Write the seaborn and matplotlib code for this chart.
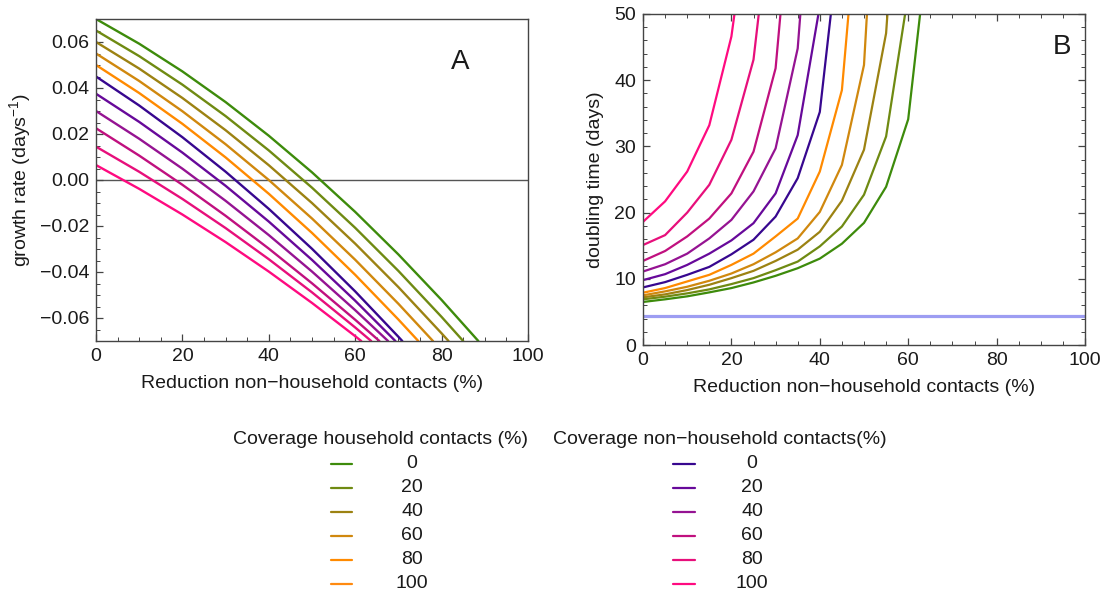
import matplotlib
matplotlib.use("Agg")
import matplotlib.pyplot as plt
import seaborn as sns
import pandas as pd
from matplotlib.ticker import MultipleLocator, FuncFormatter
from matplotlib.lines import Line2D

# ---------------- data ----------------
curve_names = ["HH0", "HH20", "HH40", "HH60", "HH80", "NH0", "NH20", "NH40", "NH60", "NH80", "NH100"]
curve_colors = ["#3d8b0b", "#6f8a12", "#9c8212", "#d0880e", "#ff8a00",
                "#37078f", "#67099a", "#951392", "#c0107f", "#e70f7b", "#ff0a80"]

# Panel A: growth rate vs reduction of non-household contacts
red_grid_A = [0, 10, 20, 30, 40, 50, 60, 70, 80]
growth_HH0 = [0.0700, 0.05925, 0.04721, 0.03388, 0.01925, 0.00334, -0.01387, -0.03237, -0.05216]
growth_HH20 = [0.0650, 0.05386, 0.04146, 0.02779, 0.01286, -0.00334, -0.02080, -0.03953, -0.05953]
growth_HH40 = [0.0600, 0.04844, 0.03566, 0.02165, 0.00643, -0.01002, -0.02768, -0.04657, -0.06667]
growth_HH60 = [0.0550, 0.04305, 0.02990, 0.01555, 0.0000, -0.01674, -0.03468, -0.05382]
growth_HH80 = [0.0500, 0.03781, 0.02442, 0.00982, -0.00599, -0.02301, -0.04123, -0.06066]
growth_NH0 = [0.0450, 0.03239, 0.01860, 0.00361, -0.01255, -0.02991, -0.04844, -0.06817]
growth_NH20 = [0.0375, 0.02526, 0.01191, -0.00253, -0.01808, -0.03474, -0.05249]
growth_NH40 = [0.0300, 0.01793, 0.00492, -0.00905, -0.02395, -0.03981, -0.05660]
growth_NH60 = [0.0225, 0.01061, -0.00208, -0.01556, -0.02984, -0.04491, -0.06077]
growth_NH80 = [0.0145, 0.00357, -0.00823, -0.02090, -0.03444, -0.04885, -0.06413]
growth_NH100 = [0.0065, -0.00385, -0.01501, -0.02700, -0.03982, -0.05345, -0.06791]
growth_end_x = [88.5, 85.0, 81.6, 78.0, 74.6, 70.9, 69.3, 67.6, 65.6, 63.7, 61.4]
growth_end_y = -0.070

# Panel B: doubling time vs reduction of non-household contacts (5 % steps)
red_grid_B = [0, 5, 10, 15, 20, 25, 30, 35, 40, 45, 50, 55, 60, 65]
doubling_HH0 = [6.5, 6.9, 7.35, 7.95, 8.6, 9.45, 10.45, 11.6, 13.05, 15.3, 18.45, 23.9, 34.1, 63.6]
doubling_HH20 = [6.9, 7.3, 7.8, 8.4, 9.2, 10.1, 11.3, 12.6, 14.9, 17.9, 22.7, 31.5, 53.0]
doubling_HH40 = [7.2, 7.65, 8.3, 9.1, 10.1, 11.2, 12.7, 14.4, 17.1, 21.8, 29.5, 47.1, 95.0]
doubling_HH60 = [7.5, 8.1, 8.8, 9.7, 10.8, 12.2, 14.0, 16.1, 20.1, 27.2, 42.3, 100.0]
doubling_HH80 = [7.9, 8.6, 9.6, 10.6, 12.1, 13.8, 16.4, 19.1, 26.2, 38.5, 77.0]
doubling_NH0 = [8.7, 9.5, 10.6, 11.8, 13.7, 15.9, 19.4, 25.2, 35.2, 64.8]
doubling_NH20 = [9.8, 10.7, 12.1, 13.8, 15.8, 18.4, 22.9, 31.7, 51.2]
doubling_NH40 = [11.1, 12.2, 13.8, 16.1, 18.9, 23.2, 29.7, 44.8, 88.0]
doubling_NH60 = [12.7, 14.2, 16.4, 19.1, 22.9, 29.2, 41.8, 79.0]
doubling_NH80 = [15.1, 16.6, 20.0, 24.2, 31.0, 43.1, 72.0]
doubling_NH100 = [18.6, 21.7, 26.2, 33.2, 46.6, 71.0]
reference_doubling = 4.4

# Legend
legend_hh_title = "Coverage household contacts (%)"
legend_nh_title = "Coverage non\u2212household contacts(%)"
coverage_levels = ["0", "20", "40", "60", "80", "100"]
legend_hh_colors = ["#3d8b0b", "#6f8a12", "#9c8212", "#d0880e", "#ff8a00", "#ff8a10"]
legend_nh_colors = ["#37078f", "#67099a", "#951392", "#c0107f", "#e70f7b", "#ff0a80"]

# ---------------- tables ----------------
growth_lists = [growth_HH0, growth_HH20, growth_HH40, growth_HH60, growth_HH80,
                growth_NH0, growth_NH20, growth_NH40, growth_NH60, growth_NH80, growth_NH100]
doubling_lists = [doubling_HH0, doubling_HH20, doubling_HH40, doubling_HH60, doubling_HH80,
                  doubling_NH0, doubling_NH20, doubling_NH40, doubling_NH60, doubling_NH80, doubling_NH100]

rows_A = []
for name, vals, ex in zip(curve_names, growth_lists, growth_end_x):
    xs = red_grid_A[:len(vals)] + [ex]
    ys = vals + [growth_end_y]
    for i, (x, y) in enumerate(zip(xs, ys)):
        rows_A.append({"curve": name, "reduction": x, "growth": y, "order": i})
dfA = pd.DataFrame(rows_A)

rows_B = []
for name, vals in zip(curve_names, doubling_lists):
    for i, (x, y) in enumerate(zip(red_grid_B, vals)):
        rows_B.append({"curve": name, "reduction": x, "doubling": y, "order": i})
dfB = pd.DataFrame(rows_B)

palette = dict(zip(curve_names, curve_colors))

# ---------------- style ----------------
sns.set_theme(style="white")
plt.rcParams["font.family"] = ["Liberation Sans", "DejaVu Sans"]
plt.rcParams["mathtext.fontset"] = "custom"
plt.rcParams["mathtext.rm"] = "Liberation Sans"
plt.rcParams["mathtext.it"] = "Liberation Sans:italic"
plt.rcParams["axes.unicode_minus"] = True

FS = 14
frame_col = "#444444"
text_col = "#1a1a1a"

fig = plt.figure(figsize=(11.03, 5.94), dpi=100)
W, H = 1103.0, 594.0
axA = fig.add_axes([96 / W, 1 - 341 / H, 432 / W, 322 / H])
axB = fig.add_axes([643 / W, 1 - 345 / H, 442 / W, 331 / H])

sns.lineplot(data=dfA, x="reduction", y="growth", hue="curve", hue_order=curve_names,
             palette=palette, units="curve", estimator=None, sort=False,
             legend=False, ax=axA, linewidth=1.7, solid_joinstyle="round")
axA.axhline(0, color="#555555", linewidth=1.0, zorder=0)

sns.lineplot(data=dfB, x="reduction", y="doubling", hue="curve", hue_order=curve_names,
             palette=palette, units="curve", estimator=None, sort=False,
             legend=False, ax=axB, linewidth=1.6)
axB.axhline(reference_doubling, color="#9d9df2", linewidth=2.3, zorder=1)

def minus_fmt(fmt):
    def f(v, pos):
        s = fmt.format(v)
        if float(s) == 0:
            s = s.replace("-", "")
        return s.replace("-", "\u2212")
    return FuncFormatter(f)

for ax in (axA, axB):
    for sp in ax.spines.values():
        sp.set_color(frame_col)
        sp.set_linewidth(1.0)
    ax.set_xlim(0, 100)
    ax.xaxis.set_major_locator(MultipleLocator(20))
    ax.xaxis.set_minor_locator(MultipleLocator(5))
    ax.tick_params(which="major", direction="in", length=5, width=0.9, color=frame_col,
                   labelsize=FS, labelcolor=text_col, pad=5)
    ax.tick_params(which="minor", direction="in", length=3, width=0.7, color=frame_col)
    ax.set_xlabel("Reduction non\u2212household contacts (%)", fontsize=FS, color=text_col, labelpad=7)
    ax.grid(False)

axA.set_ylim(-0.07, 0.07)
axA.yaxis.set_major_locator(MultipleLocator(0.02))
axA.yaxis.set_minor_locator(MultipleLocator(0.005))
axA.yaxis.set_major_formatter(minus_fmt("{:.2f}"))
axA.tick_params(which="both", top=False, right=False, bottom=True, left=True)
axA.set_ylabel("growth rate (days$^{\u22121}$)", fontsize=FS, color=text_col, labelpad=5)
axA.text(0.843, 0.866, "A", transform=axA.transAxes, fontsize=20, ha="center", va="center", color=text_col)

axB.set_ylim(0, 50)
axB.yaxis.set_major_locator(MultipleLocator(10))
axB.yaxis.set_minor_locator(MultipleLocator(2))
axB.tick_params(which="both", top=True, right=True, bottom=True, left=True)
axB.set_ylabel("doubling time (days)", fontsize=FS, color=text_col, labelpad=7)
axB.text(0.948, 0.900, "B", transform=axB.transAxes, fontsize=20, ha="center", va="center", color=text_col)

# ---------------- legends ----------------
row_y = [464, 488, 512, 536, 560, 584]

def draw_legend(title, title_x, line_x0, line_x1, label_x, colors):
    fig.text(title_x / W, 1 - 439 / H, title, fontsize=FS, ha="left", va="center", color=text_col)
    for y, lab, c in zip(row_y, coverage_levels, colors):
        fig.add_artist(Line2D([line_x0 / W, line_x1 / W], [1 - y / H, 1 - y / H],
                              transform=fig.transFigure, color=c, linewidth=1.6))
        fig.text(label_x / W, 1 - y / H, lab, fontsize=FS, ha="center", va="center", color=text_col)

draw_legend(legend_hh_title, 233, 331, 352, 412, legend_hh_colors)
draw_legend(legend_nh_title, 553, 673, 695, 752, legend_nh_colors)

fig.savefig("out.png", dpi=100, facecolor="white")
